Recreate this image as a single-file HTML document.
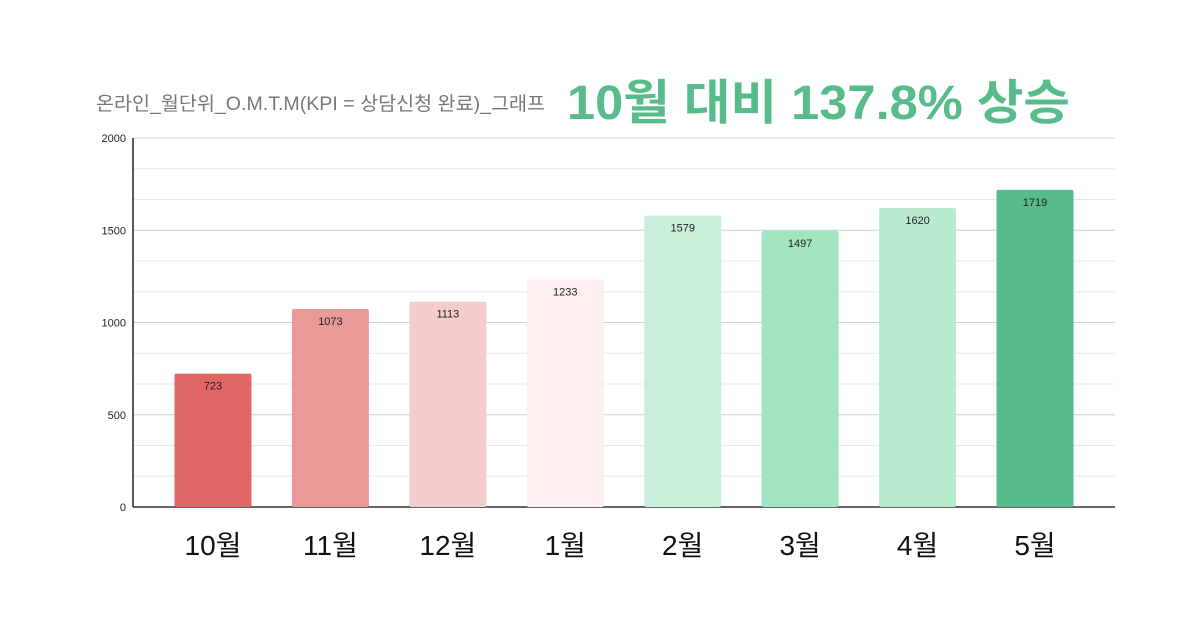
<!DOCTYPE html>
<html><head><meta charset="utf-8"><style>
body{margin:0;background:#fff;width:1200px;height:628px;overflow:hidden;font-family:"Liberation Sans","Noto Sans CJK KR",sans-serif}
</style></head><body>
<svg id="chart" width="1200" height="628" xmlns="http://www.w3.org/2000/svg">
<text x="96" y="110" font-size="19" fill="#777" textLength="449" lengthAdjust="spacingAndGlyphs" font-family="Liberation Sans, Noto Sans CJK KR, sans-serif">온라인_월단위_O.M.T.M(KPI = 상담신청 완료)_그래프</text>
<text x="567" y="119" font-size="48" font-weight="bold" fill="#57bb8a" textLength="503" lengthAdjust="spacingAndGlyphs" font-family="Liberation Sans, Noto Sans CJK KR, sans-serif">10월 대비 137.8% 상승</text>
<g id="grid"></g><g id="bars"></g><g id="labels"></g>
</svg>
<script>
const categories=["10월","11월","12월","1월","2월","3월","4월","5월"];
const values=[723,1073,1113,1233,1579,1497,1620,1719];
const colors=["#e06666","#ea9999","#f4cccc","#fcefee","#c8efda","#a2e4c0","#b8ead0","#57bb8a"];
const yTicks=[0,500,1000,1500,2000];
const ns="http://www.w3.org/2000/svg";
const x0=133,x1=1115,yB=507,yT=138,yMax=2000;
const y=v=>yB-(v/yMax)*(yB-yT);
const step=117.43;
const xc=i=>213+step*i;
function mk(t,a,p){const e=document.createElementNS(ns,t);for(const k in a)e.setAttribute(k,a[k]);p.appendChild(e);return e;}
const grid=document.getElementById('grid'),bars=document.getElementById('bars'),labels=document.getElementById('labels');
for(let k=1;k<=12;k++){const v=k*yMax/12;
 const l=mk('line',{x1:x0,x2:x1,y1:y(v),y2:y(v),stroke:k%3==0?'#d0d0d0':'#e8e8e8','stroke-width':1},grid);
 
 }
yTicks.forEach(t=>{const tx=mk('text',{x:126,y:y(t)+4,'font-size':11,'text-anchor':'end',fill:'#222'},grid);tx.textContent=t;
 
 });
const ax=mk('line',{x1:x0,x2:x0,y1:yT,y2:yB,stroke:'#222','stroke-width':1.5},grid);


const bx=mk('line',{x1:x0,x2:x1,y1:yB,y2:yB,stroke:'#333','stroke-width':1.5},grid);


const bw=77;
values.forEach((v,i)=>{
 const r=mk('rect',{x:xc(i)-bw/2,y:y(v),width:bw,height:yB-y(v),fill:colors[i],rx:2},bars);
 
 
 const t=mk('text',{x:xc(i),y:y(v)+16,'font-size':11,'text-anchor':'middle',fill:'#222'},labels);t.textContent=v;
 
 
 const c=mk('text',{x:xc(i),y:555,'font-size':28,'text-anchor':'middle',fill:'#111'},labels);c.textContent=categories[i];
 
 
});
</script>
</body></html>
